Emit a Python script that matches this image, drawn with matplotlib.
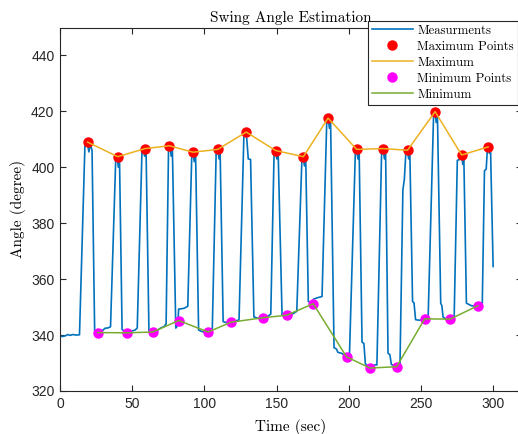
import numpy as np
import matplotlib
matplotlib.use("Agg")
from matplotlib import pyplot as plt

# measured swing angle, vertices of the recorded trace
time = [0, 2, 4, 5.5, 7, 9, 11, 13.5, 17.3, 18.9, 20.0, 21.0, 22.2, 24.0, 25.5, 27.5, 30, 31, 33.5, 35,
        38.6, 39.6, 40.4, 41.2, 43.0, 45, 48, 50, 52, 53.5,
        56.8, 57.6, 58.6, 59.6, 61.6, 64, 67, 70, 72, 73.5,
        75.2, 76.2, 77, 77.8, 80.2, 81.5, 82.2, 84, 86, 88.5,
        91.3, 92.1, 93, 93.9, 96.0, 98, 101, 104, 105.5,
        108.2, 109.2, 110.2, 110.9, 113, 115, 118, 121, 124,
        127.4, 128.6, 129.4, 130.4, 132, 134.3, 137, 140, 143, 146,
        148.3, 149.2, 150.2, 151.1, 153.8, 156, 158, 161, 164,
        167.6, 168.5, 169.3, 170.2, 172, 174, 175.5, 178, 181.5,
        184.8, 185.8, 186.6, 187.4, 189.8, 191.5, 192.5, 195, 198, 200.5,
        204.6, 205.5, 206.4, 207.2, 209.2, 210.5, 211.5, 213, 215, 217, 218.5, 219.5,
        222.8, 223.8, 224.7, 225.5, 227.2, 228.5, 229.5, 232, 233.5, 235.5,
        237.5, 238.5, 239.6, 240.6, 241.5, 242.3, 244.2, 245.2, 246.3, 249, 252.5, 255,
        258.8, 259.7, 260.6, 261.4, 263.7, 264.5, 265.3, 268, 270, 273,
        275.2, 276.8, 277.5, 278.2, 279, 279.7, 281.5, 283, 285, 287, 289.5, 292.5,
        294.0, 295.2, 296.0, 296.6, 297.4, 298.2, 300]
angle = [339.6, 339.5, 339.8, 340.2, 339.9, 340.2, 340.0, 340.1, 408.5, 408.9, 405.5, 408.3, 406, 341.5, 341.3, 341.6, 341.8, 342.4, 342.6, 343.0,
         403.0, 403.8, 400, 403.5, 342.0, 341.2, 341.4, 341.5, 341.8, 342.5,
         406.3, 406.7, 404, 406.5, 341.5, 341.2, 341.5, 342.6, 343.0, 344,
         407.6, 407.8, 404, 407.5, 342.5, 343.5, 349.3, 349.4, 349.6, 350.3,
         405.0, 405.3, 402, 405.2, 341.8, 341.3, 341.0, 341.3, 342.5,
         406.2, 406.4, 403, 406.0, 344.8, 344.5, 344.8, 345.0, 345.4,
         412.0, 412.6, 410, 403.0, 402.8, 346.5, 346.0, 346.2, 346.4, 347.5,
         405.8, 406.1, 403, 405.5, 347.2, 346.8, 347.0, 347.5, 348.5,
         403.6, 403.8, 400.5, 403.3, 352.0, 351.5, 352.8, 353.3, 353.8,
         417.2, 417.7, 414, 417.0, 335.5, 335.0, 333.8, 333.5, 332.4, 333.0,
         406.0, 406.4, 403, 406.0, 337.5, 337.0, 329.8, 328.8, 328.2, 329.0, 329.4, 329.3,
         406.4, 406.7, 403, 406.3, 333.5, 333.0, 329.5, 329.0, 328.6, 329.5,
         392, 395.6, 405.8, 406.1, 403, 405.8, 352.0, 351.5, 345.5, 345.3, 345.8, 346.5,
         419.5, 419.9, 416, 419.5, 351.4, 350.5, 346.5, 345.5, 345.7, 346.0,
         402.5, 402.8, 404.0, 404.3, 401, 404, 351.4, 351.0, 350.5, 350.4, 350.5, 351.5,
         398.8, 399.3, 406.5, 407.3, 405, 406.5, 364.5]

# detected peaks
max_t = [19.1, 40.0, 58.9, 75.8, 92.1, 109.2, 129.0, 149.3, 168.6, 185.7,
         205.5, 223.7, 240.7, 259.8, 278.2, 296.6]
max_a = [409.0, 403.8, 406.7, 407.7, 405.4, 406.4, 412.6, 406.0, 403.8, 417.6,
         406.4, 406.7, 406.1, 419.9, 404.4, 407.3]

# detected troughs
min_t = [26.1, 46.4, 64.2, 82.2, 102.6, 118.4, 140.6, 157.0, 175.4, 198.5,
         214.7, 233.2, 252.6, 270.1, 289.5]
min_a = [340.9, 340.8, 341.1, 345.2, 341.1, 344.6, 346.2, 347.1, 351.2, 332.2,
         328.2, 328.7, 345.8, 345.7, 350.5]

xticks = [0, 50, 100, 150, 200, 250, 300]
yticks = [320, 340, 360, 380, 400, 420, 440]

blue = '#0072BD'
orange = '#EDB120'
green = '#77AC30'
dark = '#262626'
serif = 'cmr10'

fig = plt.figure(figsize=(5.18, 4.34), dpi=100)
ax = fig.add_axes([60 / 518, 43 / 434, 462 / 518, 363.5 / 434])

ax.plot(time, angle, color=blue, lw=1.2, label='Measurments', zorder=2)
ax.plot(max_t, max_a, 'o', color='red', ms=6.5, ls='none', label='Maximum Points', zorder=3)
ax.plot(max_t, max_a, color=orange, lw=1.1, label='Maximum', zorder=4)
ax.plot(min_t, min_a, 'o', color='magenta', ms=6.5, ls='none', label='Minimum Points', zorder=3)
ax.plot(min_t, min_a, color=green, lw=1.1, label='Minimum', zorder=4)

ax.set_xlim(0, 320)
ax.set_ylim(320, 450)
ax.set_xticks(xticks)
ax.set_yticks(yticks)
ax.tick_params(direction='in', length=4, width=0.8, colors=dark, top=True, right=True,
               labelsize=10, pad=4)
for lab in ax.get_xticklabels() + ax.get_yticklabels():
    lab.set_fontfamily('Liberation Sans')
for sp in ax.spines.values():
    sp.set_color(dark)
    sp.set_linewidth(0.8)

ax.set_title('Swing Angle Estimation', fontfamily=serif, fontsize=11, pad=4, color='black')
ax.set_xlabel('Time (sec)', fontfamily=serif, fontsize=11, labelpad=6)
ax.set_ylabel('Angle (degree)', fontfamily=serif, fontsize=11, labelpad=4)

leg = ax.legend(loc='upper left', bbox_to_anchor=(368 / 518, 413 / 434),
                bbox_transform=fig.transFigure, borderaxespad=0, fancybox=False,
                framealpha=1, edgecolor=dark, prop={'family': serif, 'size': 9.2},
                handlelength=3.2, handletextpad=0.35, labelspacing=0.3,
                borderpad=0.3, numpoints=1)
leg.get_frame().set_linewidth(0.8)
leg.set_zorder(10)

fig.savefig('out.png', dpi=100)
